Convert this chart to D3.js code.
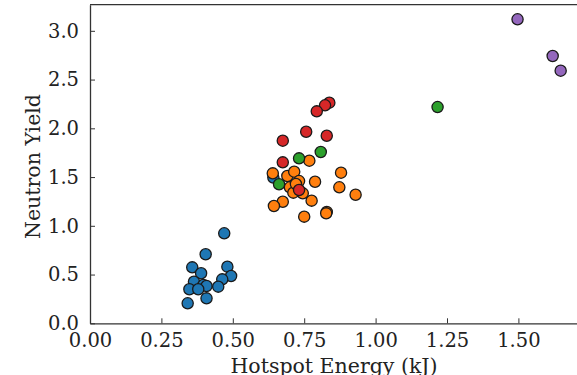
<!DOCTYPE html>
<html>
<head>
<meta charset="utf-8">
<script src="https://cdn.jsdelivr.net/npm/d3@7"></script>
<style>
  body { margin: 0; background: #fff; }
  svg { display: block; }
  text { font-family: "DejaVu Serif", serif; fill: #222; }
</style>
</head>
<body>
<div id="chart"></div>
<script>
// data, one pair of arrays per group
var blueX = [0.470, 0.405, 0.358, 0.389, 0.481, 0.494, 0.463, 0.364, 0.397, 0.408, 0.449, 0.348, 0.379, 0.408, 0.342, 0.642];
var blueY = [0.923, 0.708, 0.574, 0.513, 0.581, 0.485, 0.451, 0.427, 0.393, 0.383, 0.376, 0.349, 0.349, 0.256, 0.205, 1.495];

var orangeX = [0.640, 0.691, 0.715, 0.768, 0.732, 0.700, 0.712, 0.745, 0.788, 0.879, 0.873, 0.930, 0.776, 0.675, 0.644, 0.829, 0.750, 0.721, 0.827];
var orangeY = [1.538, 1.511, 1.555, 1.668, 1.459, 1.395, 1.340, 1.333, 1.452, 1.545, 1.395, 1.319, 1.258, 1.247, 1.203, 1.142, 1.094, 1.429, 1.128];

var greenX = [0.662, 0.732, 0.808, 1.217];
var greenY = [1.426, 1.692, 1.757, 2.218];

var redX = [0.838, 0.823, 0.794, 0.757, 0.829, 0.675, 0.675, 0.732];
var redY = [2.263, 2.236, 2.174, 1.965, 1.924, 1.873, 1.651, 1.367];

var purpleX = [1.497, 1.620, 1.648];
var purpleY = [3.118, 2.742, 2.591];

var xTicks = [0, 0.25, 0.5, 0.75, 1.0, 1.25, 1.5];
var yTicks = [0, 0.5, 1.0, 1.5, 2.0, 2.5, 3.0];

var groups = [
  { xs: blueX, ys: blueY, color: '#1f77b4' },
  { xs: orangeX, ys: orangeY, color: '#ff7f0e' },
  { xs: greenX, ys: greenY, color: '#2ca02c' },
  { xs: redX, ys: redY, color: '#d62728' },
  { xs: purpleX, ys: purpleY, color: '#9467bd' }
];

var width = 577, height = 375;
var plotLeft = 90, plotTop = 4.7, plotBottom = 323.3;
var pxPerX = 285.6;

var svg = d3.select('#chart').append('svg')
  .attr('width', width)
  .attr('height', height);

// the figure is cropped on the right, so the plot runs past the edge
var x = d3.scaleLinear().domain([0, 1.75]).range([plotLeft, plotLeft + 1.75 * pxPerX]);
var y = d3.scaleLinear().domain([0, 3.268]).range([plotBottom, plotTop]);

// points, drawn in cycle order so later groups sit on top
groups.forEach(function (g) {
  svg.append('g')
    .selectAll('circle')
    .data(g.xs.map(function (v, i) { return [v, g.ys[i]]; }))
    .enter().append('circle')
    .attr('cx', function (d) { return x(d[0]); })
    .attr('cy', function (d) { return y(d[1]); })
    .attr('r', 5.6)
    .attr('fill', g.color)
    .attr('stroke', '#1a1a1a')
    .attr('stroke-width', 1.3);
});

// axes with inward ticks
var xAxis = d3.axisBottom(x).tickValues(xTicks).tickSizeInner(-5).tickSizeOuter(0)
  .tickPadding(10).tickFormat(d3.format('.2f'));
var yAxis = d3.axisLeft(y).tickValues(yTicks).tickSizeInner(-5).tickSizeOuter(0)
  .tickPadding(11).tickFormat(d3.format('.1f'));

var gx = svg.append('g').attr('transform', 'translate(0,' + plotBottom + ')').call(xAxis);
var gy = svg.append('g').attr('transform', 'translate(' + plotLeft + ',0)').call(yAxis);

[gx, gy].forEach(function (g) {
  g.select('.domain').attr('stroke', '#333').attr('stroke-width', 1.3);
  g.selectAll('.tick line').attr('stroke', '#333').attr('stroke-width', 1);
  g.selectAll('.tick text')
    .style('font-family', '"DejaVu Serif", serif')
    .style('font-size', '19.5px')
    .attr('fill', '#222');
});

// top spine
svg.append('line')
  .attr('x1', plotLeft).attr('x2', width)
  .attr('y1', plotTop).attr('y2', plotTop)
  .attr('stroke', '#333').attr('stroke-width', 1.3);

// axis labels
svg.append('text')
  .attr('x', (plotLeft + width) / 2 + 0.5)
  .attr('y', 373)
  .attr('text-anchor', 'middle')
  .style('font-size', '20.5px')
  .text('Hotspot Energy (kJ)');

svg.append('text')
  .attr('transform', 'translate(40,166.5) rotate(-90)')
  .attr('text-anchor', 'middle')
  .style('font-size', '20.5px')
  .text('Neutron Yield');
</script>
</body>
</html>
